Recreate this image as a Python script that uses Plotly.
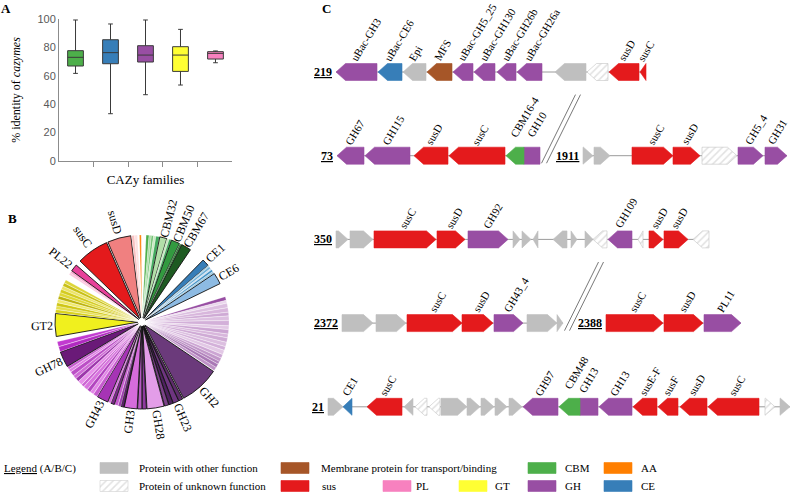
import math
import plotly.graph_objects as go

W, H = 790, 492
SERIF = "Liberation Serif"
SANS = "Liberation Sans"

# ---------------- Panel A : box plot data ----------------
box_families = ["CBM", "CE", "GH", "GT", "PL"]
box_low = [61.7, 33.3, 46.7, 53.5, 69.2]
box_q1 = [66.9, 68.5, 69.7, 63.1, 71.8]
box_med = [73.0, 76.3, 74.6, 74.6, 75.8]
box_q3 = [77.7, 85.4, 81.2, 80.5, 77.0]
box_high = [99.3, 96.5, 99.3, 92.7, 77.5]
box_colors = ["#4daf4a", "#377eb8", "#984ea3", "#ffff33", "#f781bf"]

# ---------------- Panel B : pie data (clockwise groups) ----------------
cbm_names = ["CBM", "CBM", "CBM", "CBM", "CBM", "CBM32", "CBM", "CBM", "CBM50", "CBM", "CBM67"]
cbm_values = [2.0, 1.5, 1.5, 1.5, 2.5, 5.0, 1.5, 1.5, 6.0, 1.3, 7.0]
cbm_colors = ["#4daf4a", "#a6dba0", "#74c476", "#c7e9c0", "#41ab5d", "#b2dfa9", "#c7e9c0",
              "#41ab5d", "#339a40", "#2e7d32", "#1e5a22"]
cbm_outline = [0, 0, 0, 0, 0, 1, 0, 0, 1, 0, 1]

ce_names = ["CE1", "CE", "CE", "CE", "CE", "CE", "CE6"]
ce_values = [5.0, 1.0, 1.5, 1.0, 1.5, 1.5, 8.0]
ce_colors = ["#377eb8", "#9ecae1", "#6baed6", "#c6dbef", "#4292c6", "#9ecae1", "#8dbbe3"]
ce_outline = [1, 0, 0, 0, 0, 0, 1]

gh_names = (["GH"] * 19 + ["GH2", "GH", "GH23", "GH", "GH", "GH28", "GH", "GH", "GH3",
                           "GH", "GH", "GH", "GH", "GH", "GH43"]
            + ["GH"] * 11 + ["GH78", "GH", "GH"])
gh_values = ([2.5, 2.0, 3.0,
              3.0, 2.5, 3.0, 3.5, 2.5, 3.0, 2.5, 3.0, 3.0, 2.5, 3.0, 2.5,
              2.5, 2.0, 2.5, 2.5,
              28.0, 3.0, 4.0, 3.0, 3.0, 12.0, 3.0, 3.0, 9.0,
              2.0, 2.0, 2.5, 2.5, 2.0, 8.0,
              3.0, 2.5, 2.5, 3.0, 2.0, 3.0, 2.5, 2.5, 3.0, 2.0, 2.0,
              11.0, 3.5, 3.5])
gh_colors = (["#984ea3", "#ead7ec", "#dcbfe0",
              "#d8b6dc", "#cfaad5", "#dcbfe0", "#d3b0d9", "#e2c8e5", "#cca5d3",
              "#d8b6dc", "#cfaad5", "#dcbfe0", "#d3b0d9", "#e2c8e5", "#cca5d3",
              "#c197c9", "#b384bd", "#a978b5", "#bf92c7",
              "#6b3a7b", "#5e2c6b", "#6e3580", "#4f2160", "#7c4289", "#e39de8", "#8f3a9f",
              "#b75bc3", "#d56cdb",
              "#5c1f6a", "#9a3fab", "#c65bce", "#7a2a88", "#d874de", "#a634b5",
              "#c65bce", "#e285e7", "#b245bf", "#d874de", "#cc66d3", "#e790ea", "#9c36ab",
              "#d06bd7", "#bb4fc6", "#e07ee5", "#c45ccc",
              "#6a1a78", "#b02ac0", "#c23ad0"])
gh_outline = ([0] * 19 + [1, 1, 1, 1, 1, 1, 1, 1, 1] + [1, 0, 0, 1, 0, 1] + [0] * 11 + [1, 0, 0])

gt_names = ["GT2"] + ["GT"] * 10
gt_values = [16.0, 2.3, 2.3, 2.3, 2.3, 2.3, 2.3, 2.3, 2.3, 2.3, 2.3]
gt_colors = ["#f0f01e", "#d9d21a", "#e6df4d", "#cfc614", "#f0ea6e", "#bdb30f",
             "#e0d835", "#d4cb20", "#ece46a", "#c9c016", "#ddd53a"]
gt_outline = [1] + [0] * 10

pl_names = ["PL", "PL", "PL22"]
pl_values = [1.5, 1.5, 5.0]
pl_colors = ["#fbc8e0", "#f9a8cf", "#e7409a"]
pl_outline = [0, 0, 1]

sus_names = ["susC", "susD", "sus", "sus"]
sus_values = [22.5, 16.5, 2.0, 2.0]
sus_colors = ["#e41a1c", "#f08080", "#f9c0c0", "#fde0e0"]
sus_outline = [1, 1, 0, 0]

aa_names = ["AA"]
aa_values = [1.2]
aa_colors = ["#ff7f00"]
aa_outline = [0]

pie_labelled = ["CBM32", "CBM50", "CBM67", "CE1", "CE6", "GH2", "GH23", "GH28", "GH3",
                "GH43", "GH78", "GT2", "PL22", "susC", "susD"]

# ---------------- Panel C : gene clusters ----------------
# (start, end, strand, category, label)   x in schematic units
cluster_names = ["219", "73", "1911", "350", "2372", "2388", "21"]
cluster_rows = [0, 1, 1, 2, 3, 3, 4]
genes_219 = [(336, 377, -1, "GH", "uBac-GH3"), (378, 402, -1, "CE", "uBac-CE6"),
             (403, 426, -1, "other", "Epi"), (427, 452, -1, "membrane", "MFS"),
             (453, 473, -1, "GH", "uBac-GH5_25"), (474, 495, -1, "GH", "uBac-GH130"),
             (497, 516, -1, "GH", "uBac-GH26b"), (517, 542, -1, "GH", "uBac-GH26a"),
             (555, 586, -1, "other", ""), (587, 608, -1, "unknown", ""),
             (609, 639, -1, "sus", "susD"), (640, 646, -1, "sus", "susC")]
genes_73 = [(337, 364, -1, "GH", "GH67"), (365, 410, -1, "GH", "GH115"),
            (414, 448, -1, "sus", "susD"), (449, 505, -1, "sus", "susC"),
            (506, 524, -1, "CBM", "CBM16-4<br>GH10"), (524, 540, 0, "GH", "")]
genes_1911 = [(583, 593, 1, "other", ""), (594, 610, 1, "other", ""),
              (632, 673, 1, "sus", "susC"), (673, 700, 1, "sus", "susD"),
              (702, 737, 1, "unknown", ""), (738, 763, 1, "GH", "GH5_4"),
              (765, 787, 1, "GH", "GH31")]
genes_350 = [(336, 348, 1, "other", ""), (350, 373, 1, "other", ""),
             (374, 436, 1, "sus", "susC"), (437, 465, 1, "sus", "susD"),
             (468, 508, 1, "GH", "GH92"), (513, 520, 1, "other", ""),
             (522, 531, 1, "other", ""), (533, 538, -1, "other", ""),
             (553, 567, -1, "other", ""), (571, 577, 1, "other", ""),
             (585, 593, 1, "other", ""), (593, 607, -1, "unknown", ""),
             (608, 632, -1, "GH", "GH109"), (638, 643, -1, "unknown", ""),
             (649, 663, 1, "sus", "susD"), (664, 688, 1, "sus", "susD"),
             (693, 709, -1, "unknown", "")]
genes_2372 = [(342, 373, 1, "other", ""), (376, 406, 1, "other", ""),
              (407, 462, 1, "sus", "susC"), (462, 493, 1, "sus", "susD"),
              (494, 523, 1, "GH", "GH43_4"), (527, 557, 1, "other", ""),
              (557, 563, 1, "other", "")]
genes_2388 = [(606, 663, 1, "sus", "susC"), (664, 703, 1, "sus", "susD"),
              (704, 741, 1, "GH", "PL11")]
genes_21 = [(328, 343, 1, "other", ""), (343, 352, -1, "CE", "CE1"),
            (367, 402, -1, "sus", "susC"), (404, 413, -1, "other", ""),
            (415, 427, -1, "unknown", ""), (429, 440, -1, "unknown", ""),
            (441, 467, 1, "other", ""), (467, 480, 1, "other", ""),
            (481, 494, 1, "other", ""), (495, 507, 1, "other", ""),
            (509, 522, 1, "other", ""), (523, 558, -1, "GH", "GH97"),
            (559, 580, -1, "CBM", "CBM48<br>GH13"), (580, 598, 0, "GH", ""),
            (599, 632, -1, "GH", "GH13"), (633, 657, -1, "sus", "susE-F"),
            (658, 678, -1, "sus", "susF"), (680, 707, -1, "sus", "susD"),
            (708, 759, -1, "sus", "susC"), (765, 775, 1, "unknown", ""),
            (780, 790, 1, "other", "")]
cluster_genes = [genes_219, genes_73, genes_1911, genes_350, genes_2372, genes_2388, genes_21]
break_x = [561, 584]
break_row = [0.68, 2.68]

gene_colors = {"GH": "#984ea3", "CE": "#377eb8", "CBM": "#4daf4a", "sus": "#e41a1c",
               "other": "#bfbfbf", "membrane": "#a65628", "unknown": "#ffffff"}

# ---------------- Legend ----------------
legend_labels = ["Protein with other function", "Membrane protein for transport/binding", "CBM", "AA",
                 "Protein of unknown function", "sus", "PL", "GT", "GH", "CE"]
legend_colors = ["#bfbfbf", "#a65628", "#4daf4a", "#ff7f00", "#ffffff", "#e41a1c",
                 "#f781bf", "#ffff33", "#984ea3", "#377eb8"]
legend_hatched = [0, 0, 0, 0, 1, 0, 0, 0, 0, 0]
legend_swatch_x = [100, 281, 528, 604, 100, 281, 383, 459, 528, 604]
legend_text_x = [137, 319, 563, 639, 137, 320, 414, 493, 563, 639]
legend_row = [0, 0, 0, 0, 1, 1, 1, 1, 1, 1]

fig = go.Figure()
ann = []

def px2paper(px, py):
    return px / W, 1 - py / H

# ---------- Panel A ----------
for fam, lo, q1, me, q3, hi, col in zip(box_families, box_low, box_q1, box_med, box_q3,
                                         box_high, box_colors):
    fig.add_trace(go.Box(x=[fam], q1=[q1], median=[me], q3=[q3], lowerfence=[lo],
                         upperfence=[hi], fillcolor=col, line=dict(color="#3a3a3a", width=1),
                         width=0.45, whiskerwidth=0.3, boxpoints=False, showlegend=False,
                         hoverinfo="skip", xaxis="x", yaxis="y"))

ax_l, ax_r, ax_t, ax_b = 59, 232, 19, 161
fig.update_layout(
    xaxis=dict(domain=[ax_l / W, ax_r / W], anchor="y", showline=True, linecolor="#8c8c8c",
               ticks="outside", tickson="boundaries", ticklen=5, tickcolor="#8c8c8c",
               showticklabels=False, showgrid=False, zeroline=False, fixedrange=True,
               automargin=False,
               title=dict(text="CAZy families", font=dict(family=SERIF, size=13, color="black"),
                          standoff=13)),
    yaxis=dict(domain=[1 - ax_b / H, 1 - ax_t / H], anchor="x", range=[0, 100], dtick=20,
               showline=True, linecolor="#8c8c8c", ticks="", showgrid=False, zeroline=False,
               tickfont=dict(family=SANS, size=11, color="#595959"), fixedrange=True,
               automargin=False,
               title=dict(text="% identity of <i>cazymes</i>",
                          font=dict(family=SERIF, size=12, color="black"), standoff=14)),
    boxmode="overlay",
)

# ---------- Panel B ----------
gap_after = [10.5, 9.0, 3.0, 4.0, 3.0, 1.3, 0.5]
lead_gap = 2.7
groups = [(cbm_names, cbm_values, cbm_colors, cbm_outline),
          (ce_names, ce_values, ce_colors, ce_outline),
          (gh_names, gh_values, gh_colors, gh_outline),
          (gt_names, gt_values, gt_colors, gt_outline),
          (pl_names, pl_values, pl_colors, pl_outline),
          (sus_names, sus_values, sus_colors, sus_outline),
          (aa_names, aa_values, aa_colors, aa_outline)]
p_ids, p_vals, p_cols, p_lcol, p_lw, p_pull, p_name = [], [], [], [], [], [], []
def add_gap(v):
    p_ids.append("gap%d" % len(p_ids)); p_vals.append(v); p_cols.append("rgba(0,0,0,0)")
    p_lcol.append("rgba(0,0,0,0)"); p_lw.append(0); p_pull.append(0); p_name.append("")
add_gap(lead_gap)
for (nm, vl, cl, ol), g in zip(groups, gap_after):
    for n, v, c, o in zip(nm, vl, cl, ol):
        p_ids.append("%s_%d" % (n, len(p_ids))); p_vals.append(v); p_cols.append(c)
        p_lcol.append("#111111" if o else "rgba(255,255,255,0.6)"); p_lw.append(0.9 if o else 0.4)
        p_pull.append(0.05); p_name.append(n)
    add_gap(g)

pc_x, pc_y, pie_half = 142, 322, 87
dx0, dy0 = px2paper(pc_x - pie_half, pc_y + pie_half)
dx1, dy1 = px2paper(pc_x + pie_half, pc_y - pie_half)
fig.add_trace(go.Pie(labels=p_ids, values=p_vals, sort=False, direction="clockwise", rotation=0,
                     marker=dict(colors=p_cols, line=dict(color=p_lcol, width=p_lw)),
                     pull=p_pull, textinfo="none", hoverinfo="skip", showlegend=False,
                     domain=dict(x=[dx0, dx1], y=[dy0, dy1])))

total = sum(p_vals)
cum = 0.0
for n, v in zip(p_name, p_vals):
    mid = (cum + v / 2) / total * 360.0
    cum += v
    if n in pie_labelled:
        wtxt = 6.3 * len(n)
        r = pie_half + 4 + wtxt / 2
        th = math.radians(mid)
        lx, ly = px2paper(pc_x + r * math.sin(th), pc_y - r * math.cos(th))
        ang = mid - 90 if mid < 180 else mid + 90 - 360
        ann.append(dict(x=lx, y=ly, xref="paper", yref="paper", text=n, showarrow=False,
                        textangle=ang, xanchor="center", yanchor="middle",
                        font=dict(family=SERIF, size=12, color="black")))

# ---------- Panel C ----------
row_top_px, row_step_px = 72, 83.7
yr = [(H - row_top_px) / row_step_px, -row_top_px / row_step_px]
hh = 8.5 / row_step_px
head = 9.5
fig.update_layout(
    xaxis3=dict(domain=[0, 1], range=[0, W], visible=False, fixedrange=True, anchor="y3"),
    yaxis3=dict(domain=[0, 1], range=yr, visible=False, fixedrange=True, anchor="x3"),
    xaxis4=dict(domain=[0, 1], range=[0, W], visible=False, fixedrange=True, anchor="y4"),
    yaxis4=dict(domain=[0, 1], range=[H, 0], visible=False, fixedrange=True, anchor="x4"),
)

# backbones
bx, by = [], []
for genes, row in zip(cluster_genes, cluster_rows):
    bx += [min(g[0] for g in genes), max(g[1] for g in genes), None]
    by += [row, row, None]
fig.add_trace(go.Scatter(x=bx, y=by, mode="lines", line=dict(color="#808080", width=0.8),
                         xaxis="x3", yaxis="y3", hoverinfo="skip", showlegend=False))

def arrow(s, e, strand, y):
    hd = min(head, e - s)
    if strand > 0:
        return [s, e - hd, e, e - hd, s, s, None], [y - hh, y - hh, y, y + hh, y + hh, y - hh, None]
    if strand < 0:
        return [e, s + hd, s, s + hd, e, e, None], [y - hh, y - hh, y, y + hh, y + hh, y - hh, None]
    return [s, e, e, s, s, None], [y - hh, y - hh, y + hh, y + hh, y - hh, None]

polys = {k: ([], []) for k in gene_colors}
for name, genes, row in zip(cluster_names, cluster_genes, cluster_rows):
    for s, e, strand, cat, lab in genes:
        xs, ys = arrow(s, e, strand, row)
        polys[cat][0].extend(xs); polys[cat][1].extend(ys)
        if lab:
            est_w = 0.515 * 5.8 * len(lab.split("<br>")[0]) + 11.5
            lx = min((s + e) / 2 - 9, W - 3 - est_w)
            ann.append(dict(x=lx, y=row - hh + 0.01, xref="x3", yref="y3",
                            text=lab, showarrow=False, textangle=-59, xanchor="left",
                            yanchor="bottom", borderpad=0,
                            font=dict(family=SERIF, size=11, color="black")))
    ann.append(dict(x=min(g[0] for g in genes) - 2, y=row, xref="x3", yref="y3",
                    text="<b><u>%s</u></b>" % name, showarrow=False, xanchor="right",
                    yanchor="middle", font=dict(family=SERIF, size=12, color="black")))

for cat, (xs, ys) in polys.items():
    if not xs:
        continue
    col = gene_colors[cat]
    kw = {}
    if cat == "unknown":
        kw["fillpattern"] = dict(shape="/", fgcolor="#c4c4c4", bgcolor="#ffffff", size=5,
                                 solidity=0.3)
        lc = "#c4c4c4"
    else:
        lc = col
    fig.add_trace(go.Scatter(x=xs, y=ys, mode="lines", fill="toself", fillcolor=col,
                             line=dict(color=lc, width=0.6), xaxis="x3", yaxis="y3",
                             hoverinfo="skip", showlegend=False, **kw))

# break marks
kx, ky = [], []
for bxc, brow in zip(break_x, break_row):
    for off in (-2.5, 2.5):
        kx += [bxc - 17 + off, bxc + 17 + off, None]
        ky += [brow + 0.41, brow - 0.41, None]
fig.add_trace(go.Scatter(x=kx, y=ky, mode="lines", line=dict(color="#555555", width=0.8),
                         xaxis="x3", yaxis="y3", hoverinfo="skip", showlegend=False))

# ---------- Legend ----------
row_y = [468, 486]
sw_w, sw_h = 28, 11
for lab, col, hat, sx, tx, r in zip(legend_labels, legend_colors, legend_hatched,
                                    legend_swatch_x, legend_text_x, legend_row):
    yc = row_y[r]
    kw = {}
    if hat:
        kw["fillpattern"] = dict(shape="/", fgcolor="#c4c4c4", bgcolor="#ffffff", size=5,
                                 solidity=0.3)
    fig.add_trace(go.Scatter(x=[sx, sx + sw_w, sx + sw_w, sx, sx],
                             y=[yc - sw_h / 2, yc - sw_h / 2, yc + sw_h / 2, yc + sw_h / 2, yc - sw_h / 2],
                             mode="lines", fill="toself", fillcolor=col,
                             line=dict(color="#d0d0d0" if hat else col, width=0.6),
                             xaxis="x4", yaxis="y4", hoverinfo="skip", showlegend=False, **kw))
    ann.append(dict(x=tx, y=yc, xref="x4", yref="y4", text=lab, showarrow=False,
                    xanchor="left", yanchor="middle",
                    font=dict(family=SERIF, size=11, color="black")))
ann.append(dict(x=2, y=row_y[0], xref="x4", yref="y4", text="<u>Legend</u> (A/B/C)",
                showarrow=False, xanchor="left", yanchor="middle",
                font=dict(family=SERIF, size=11, color="black")))

# panel letters
for letter, (lx, ly) in zip(["A", "B", "C"], [(6, 8), (12, 218), (326, 8)]):
    ann.append(dict(x=lx, y=ly, xref="x4", yref="y4", text="<b>%s</b>" % letter,
                    showarrow=False, xanchor="center", yanchor="middle",
                    font=dict(family=SERIF, size=13, color="black")))

fig.update_layout(width=W, height=H, margin=dict(l=0, r=0, t=0, b=0),
                  paper_bgcolor="white", plot_bgcolor="rgba(0,0,0,0)",
                  annotations=ann, showlegend=False)
fig.write_html("out.html", config={"displayModeBar": False, "staticPlot": True},
               post_script="document.body.style.margin='0';document.body.style.overflow='hidden';")
